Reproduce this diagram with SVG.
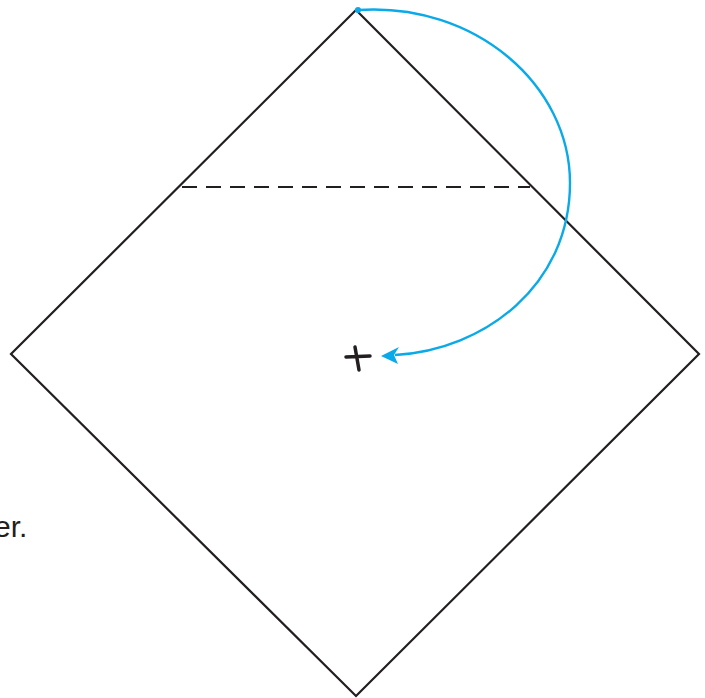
<svg xmlns="http://www.w3.org/2000/svg" width="705" height="698" viewBox="0 0 705 698">
<defs>
<style>
.edge{fill:none;stroke:#231f20;stroke-width:2.2;stroke-linejoin:miter}
.dash{fill:none;stroke:#231f20;stroke-width:2.2;stroke-dasharray:15 9}
.blue{fill:none;stroke:#0aa9e8;stroke-width:2.4}
.plus{fill:none;stroke:#231f20;stroke-width:3.5;stroke-linecap:round}
.lbl{font-family:"Liberation Sans",Arial,sans-serif;font-size:30px;fill:#231f20}
</style>
<marker id="arr" viewBox="0 0 10 10" refX="1" refY="5" markerWidth="7" markerHeight="7" markerUnits="userSpaceOnUse" orient="auto">
<path d="M0,0 L10,5 L0,10 L3,5 Z" fill="#0aa9e8"/>
</marker>
</defs>
<rect width="705" height="698" fill="#ffffff"/>
<g id="square">
<polygon class="edge" points="356,10 699,354 356,696 11,354"/>
</g>
<g id="fold-line">
<line class="dash" x1="182" y1="187" x2="530" y2="187"/>
</g>
<g id="center">
<path class="plus" d="M346,357 L370,356 M355,347 L359,370"/>
</g>
<g id="label">
<text class="lbl" x="-6" y="537">er.</text>
</g>
<g id="connectors">
<circle cx="358" cy="10" r="3" fill="#0aa9e8"/>
<path class="blue" d="M358,10 C475,2 570,85 570,183 C570,285 485,350 395,355"/>
<path d="M381,356 L399,347 L394,355 L398,364 Z" fill="#0aa9e8"/>
</g>
</svg>
